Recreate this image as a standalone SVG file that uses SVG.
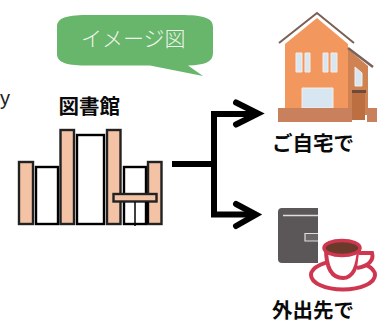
<svg xmlns="http://www.w3.org/2000/svg" width="377" height="322" viewBox="0 0 377 322">
<style>
.j{font-family:"Noto Sans CJK JP","Liberation Sans",sans-serif}
.b{font-size:20.500px;font-weight:700;fill:#0a0a0a}
.bk{fill:#f4c3a6;stroke:#222;stroke-width:2.400}
.wh{fill:#fff;stroke:#000;stroke-width:2.400}
.cn{fill:none;stroke:#000;stroke-width:6}
.red{stroke:#cf3650;stroke-width:4;fill:#fff}
.win{fill:#d8e6f2;stroke:#f6ece4;stroke-width:1}
</style>
<rect width="377" height="322" fill="#fff"/>
<text x="0" y="105" font-family="Liberation Sans,sans-serif" font-size="20" fill="#222">y</text>
<g id="bubble">
<path d="M57 27C57 17 68 15 90 15H180C204 15 213 18 213 27V53C213 62 205 65 188 65.500L203 76L150 65.500H85C66 65.500 57 62 57 54Z" fill="#68b56c"/>
<text class="j" x="81" y="46" font-size="21" fill="#eef5ea" font-weight="300">イメージ図</text>
</g>
<g id="library">
<text class="j b" x="58.500" y="114">図書館</text>
<rect class="bk" x="19" y="162" width="14" height="62"/>
<rect class="wh" x="36" y="167" width="22" height="57"/>
<rect class="bk" x="60.500" y="130" width="13.500" height="94"/>
<rect class="wh" x="77" y="135" width="27" height="89"/>
<rect class="bk" x="107" y="130" width="13.500" height="94"/>
<rect class="wh" x="124" y="167" width="22" height="57"/>
<rect class="bk" x="148" y="162" width="13.500" height="62"/>
<rect class="bk" x="113.500" y="194" width="43" height="7.500"/>
<path d="M135 202V226" stroke="#000" stroke-width="1.500"/>
<path d="M147 202V224" stroke="#000" stroke-width="3.500"/>
</g>
<g id="connectors">
<path class="cn" d="M172 164H214M214 114V217"/>
<path class="cn" d="M211 114H258M211 214.500H255"/>
<path class="cn" stroke-linecap="round" d="M236 102.500L258 113.500L236 124.500M236 204L256 214.500L236 226"/>
</g>
<g id="home">
<path d="M285 44L317 18L348 44V115H285Z" fill="#f2985f"/>
<path d="M348 49L368 66V115H348Z" fill="#cf8252"/>
<path d="M281 44L317 15L352 44" fill="none" stroke="#fff" stroke-width="3"/>
<path d="M279 43L317 13L354 43" fill="none" stroke="#7a6055" stroke-width="2"/>
<path d="M348 48L373 67" fill="none" stroke="#7a6055" stroke-width="2.500"/>
<path class="win" d="M296 53h6v19h-6zM305 53h5v19h-5zM323 53h5v19h-5zM331 53h6v19h-6zM355 67l7 6v13h-7zM302 88h31v20h-31z"/>
<rect x="352" y="90" width="14" height="3" fill="#6e4a3a"/>
<path d="M278 108H352V122H278ZM367 108H377V122H367Z" fill="#c9805c"/>
<rect x="352" y="93" width="13" height="27" fill="#bc6f40"/>
<text class="j b" x="272" y="151">ご自宅で</text>
</g>
<g id="outside">
<rect x="278" y="208" width="46" height="55" rx="4" fill="#5b5758"/>
<path d="M283 215.500H318" stroke="#ddd" stroke-width="1.500"/>
<path d="M318 233.500H305V241H318" fill="#6b6768" stroke="#ddd" stroke-width="1.200"/>
<path d="M318 205V266H326V205Z" fill="#fff"/>
<ellipse cx="343" cy="275" rx="32" ry="14.500" class="red"/>
<path d="M326 248C326 264 330 278 343 278C354 278 358 264 359 248Z" class="red"/>
<path d="M359 253H372C374 260 369 266 357 268" class="red" fill="none"/>
<ellipse cx="342" cy="248" rx="18" ry="7.500" fill="#6b3a2a" stroke="#cf3650" stroke-width="3.500"/>
<text class="j b" x="272" y="318">外出先で</text>
</g>
</svg>
